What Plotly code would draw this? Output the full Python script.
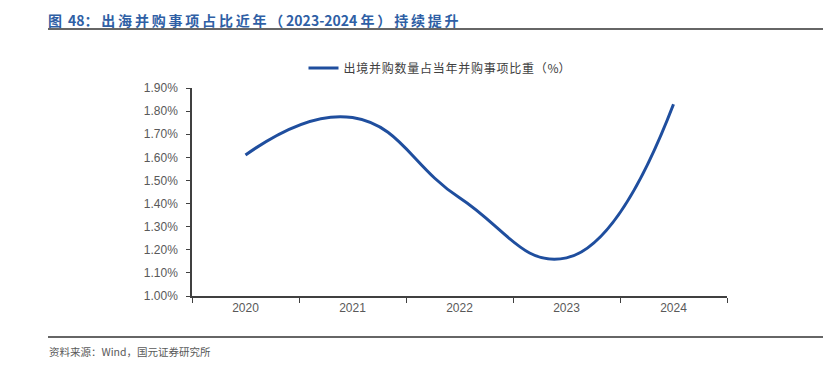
import plotly.graph_objects as go

years = ["2020", "2021", "2022", "2023", "2024"]
share_pct = [1.61, 1.772, 1.425, 1.165, 1.83]
y_ticks = [1.0, 1.1, 1.2, 1.3, 1.4, 1.5, 1.6, 1.7, 1.8, 1.9]
y_tick_labels = [f"{v:.2f}%" for v in y_ticks]
series_name = "出境并购数量占当年并购事项比重（%）"
title_text = "图 48：出海并购事项占比近年（2023-2024 年）持续提升"
source_text = "资料来源：Wind，国元证券研究所"

FONT = "Liberation Sans, Noto Sans CJK SC, sans-serif"
CJK = "Noto Sans CJK SC, Liberation Sans, sans-serif"


def spaced(s, sp="\u2009"):
    out = []
    for ch in s:
        out.append(ch)
        if ord(ch) > 127:
            out.append(sp)
    return "".join(out)


# page has an 8px body margin; figure coords = page coords - 8
OFF = 8
L, R, T, B = 192 - OFF, 727 - OFF, 88 - OFF, 296 - OFF
W, H = 831, 369
PW, PH = R - L, B - T


def px(xp):
    return (xp - OFF - L) / PW


def py(yp):
    return (B - (yp - OFF)) / PH


fig = go.Figure()
fig.add_trace(go.Scatter(
    x=years, y=share_pct, mode="lines", name=spaced(series_name, "\u200a"),
    line=dict(color="#1f4e9e", width=3, shape="spline", smoothing=1.3),
))

fig.update_layout(
    width=W, height=H,
    margin=dict(l=L, r=W - R, t=T, b=H - B),
    paper_bgcolor="white", plot_bgcolor="white",
    showlegend=True,
    legend=dict(orientation="h", x=px(440), xanchor="center", y=py(68), yanchor="middle",
                font=dict(family=CJK, size=12, color="#404040"),
                bgcolor="rgba(0,0,0,0)"),
    xaxis=dict(type="category", range=[-0.5, 4.5], tickson="boundaries",
               ticks="outside", ticklen=5, tickcolor="#404040",
               showline=True, linecolor="#404040", linewidth=1.5,
               showgrid=False, zeroline=False,
               tickfont=dict(family=FONT, size=12, color="#595959")),
    yaxis=dict(range=[1.0, 1.9], tickvals=y_ticks, ticktext=y_tick_labels,
               ticks="outside", ticklen=4, tickcolor="#404040",
               showline=True, linecolor="#404040", linewidth=1.5,
               showgrid=False, zeroline=False, ticklabelstandoff=6,
               tickfont=dict(family=FONT, size=12, color="#595959")),
)

fig.add_annotation(xref="paper", yref="paper", x=px(47), y=py(9),
                   xanchor="left", yanchor="top", showarrow=False, borderpad=0,
                   text="<b>" + spaced(title_text) + "</b>",
                   font=dict(family=CJK, size=14, color="#2f5fa5"))
fig.add_shape(type="line", xref="paper", yref="paper",
              x0=px(48), x1=px(831), y0=py(29), y1=py(29),
              line=dict(color="#333333", width=1.5))
fig.add_shape(type="line", xref="paper", yref="paper",
              x0=px(48), x1=px(831), y0=py(337), y1=py(337),
              line=dict(color="#333333", width=1.5))
fig.add_annotation(xref="paper", yref="paper", x=px(47), y=py(351),
                   xanchor="left", yanchor="middle", showarrow=False,
                   text=source_text,
                   font=dict(family=CJK, size=10.5, color="#595959"))

fig.write_html("out.html")
